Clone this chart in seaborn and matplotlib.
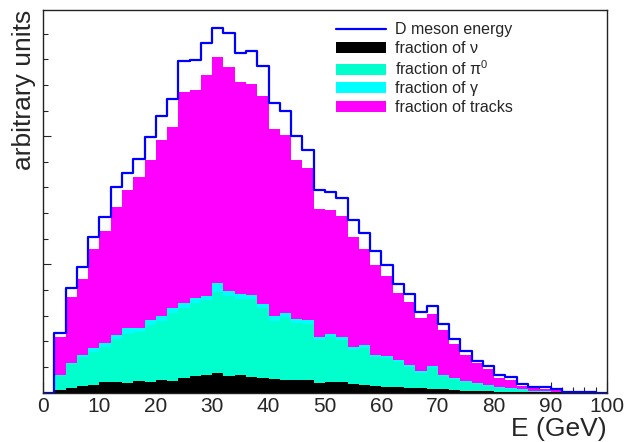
import numpy as np
import seaborn as sns
import matplotlib.pyplot as plt
from matplotlib.lines import Line2D
from matplotlib.patches import Patch
from matplotlib.ticker import MultipleLocator

sns.set_style("white")
plt.rcParams['font.family'] = ['Liberation Sans', 'DejaVu Sans']
plt.rcParams['mathtext.fontset'] = 'custom'
plt.rcParams['mathtext.rm'] = 'Liberation Sans'
plt.rcParams['mathtext.it'] = 'Liberation Sans:italic'

# 2 GeV bins from 0 to 100 GeV
edges = list(range(0, 102, 2))
centers = [e + 1 for e in edges[:-1]]

# D meson energy (arbitrary units)
d_meson = [0, 59.8, 104.2, 125.2, 154.8, 174.8, 205.2, 219.2, 233.2, 254.8,
           275.8, 293.5, 330.8, 331.8, 349.2, 364.2, 359.2, 339.2, 341.5, 326.5,
           289.2, 280.8, 255.8, 242.5, 201.8, 199.8, 194.2, 171.8, 159.2, 141.8,
           127.5, 108.2, 98.5, 80.8, 86.5, 68.2, 53.2, 41.5, 31.5, 26.5,
           17.5, 15.8, 8.2, 5.2, 5.2, 3.2, 0.8, 0.4, 0.2, 0]

# contributions of each component
frac_nu = [0, 2.5, 4.5, 6.5, 7.5, 10.2, 10.8, 9.8, 11.8, 10.8,
           12.5, 11.5, 14.5, 16.5, 17.5, 19.2, 16.5, 17.5, 15.2, 14.2,
           13.2, 12.5, 12.5, 12, 9.5, 10.3, 10.2, 8.5, 7.5, 6.8,
           5.8, 5.2, 4.8, 4.2, 3.8, 3.2, 2.5, 1.8, 1.8, 1.2,
           0.8, 0.6, 0.4, 0.3, 0.2, 0.1, 0.1, 0, 0, 0]

frac_pi0 = [0, 14, 24.3, 29.3, 33.3, 35, 42.7, 48.9, 48.5, 56.7,
            59.3, 67.8, 70.3, 73.3, 74.8, 81, 80, 76, 78.6, 70,
            58.6, 63.3, 56.7, 56.5, 43, 44.9, 42.6, 33.7, 37, 28.2,
            28.2, 25.3, 20.7, 15.6, 20.7, 12.8, 10.8, 8.7, 6.4, 5.3,
            3.6, 3, 2.3, 1.2, 0.6, 0.5, 0.3, 0.1, 0, 0]

frac_gamma = [0, 1, 1, 2, 4, 4, 4, 5.5, 4.5, 5,
              5, 5.5, 5, 5, 4.5, 9, 5, 5, 4, 4,
              5, 4, 4, 3.5, 3, 3, 3, 3, 3, 2.5,
              2.5, 2, 2, 2, 2, 1.5, 1.5, 1, 1, 1,
              0.8, 0.6, 0.5, 0.3, 0.2, 0.2, 0.1, 0, 0, 0]

frac_tracks = [0, 38, 65.4, 76, 98.4, 111.6, 127.7, 137.6, 150, 160,
               175, 180, 210.4, 207, 220.7, 225.6, 223.7, 211.3, 210.7, 207.6,
               186.4, 177, 158.6, 152.2, 127.7, 124.3, 120, 110, 96, 90,
               80, 66.7, 63.3, 52.4, 52, 45, 33.4, 26.3, 20, 16,
               9.6, 8.3, 3.3, 2.4, 2.2, 1.7, 0.3, 0.2, 0.1, 0]

labels = ["D meson energy", "fraction of ν", "fraction of π$^{\\mathrm{0}}$",
          "fraction of γ", "fraction of tracks"]
c_blue, c_nu, c_pi0, c_gamma, c_tracks = "#0000ff", "#000000", "#00ffcc", "#00ffff", "#ff00ff"

# stacked levels, drawn on top of each other like in ROOT
lvl_nu = np.array(frac_nu)
lvl_pi0 = lvl_nu + np.array(frac_pi0)
lvl_gamma = lvl_pi0 + np.array(frac_gamma)
lvl_tracks = lvl_gamma + np.array(frac_tracks)

fig = plt.figure(figsize=(6.27, 4.42), dpi=100)
ax = fig.add_axes([43 / 627, 49.5 / 442, 564 / 627, 382.5 / 442])

for lvl, col in [(lvl_tracks, c_tracks), (lvl_gamma, c_gamma), (lvl_pi0, c_pi0), (lvl_nu, c_nu)]:
    sns.histplot(x=centers, weights=lvl, bins=edges, element="step", fill=True,
                 color=col, alpha=1, linewidth=0, ax=ax)

sns.histplot(x=centers, weights=d_meson, bins=edges, element="step", fill=False,
             color=c_blue, linewidth=1.6, ax=ax)

ax.set_xlim(0, 100)
ax.set_ylim(0, 382)
ax.set_axisbelow(True)
ax.xaxis.set_major_locator(MultipleLocator(10))
ax.xaxis.set_minor_locator(MultipleLocator(2))
ax.yaxis.set_major_locator(MultipleLocator(128))
ax.yaxis.set_minor_locator(MultipleLocator(25.6))
ax.tick_params(axis='x', which='major', direction='in', length=8, width=0.8,
               labelsize=15, pad=3, bottom=True)
ax.tick_params(axis='x', which='minor', direction='in', length=4.3, width=0.8, bottom=True)
ax.tick_params(axis='y', which='major', direction='in', length=6, width=0.8,
               labelleft=False, left=True)
ax.tick_params(axis='y', which='minor', direction='in', length=3.3, width=0.8, left=True)
for sp in ax.spines.values():
    sp.set_color('#222222')
    sp.set_linewidth(1)

ax.set_xlabel("E (GeV)", loc="right", fontsize=19)
ax.xaxis.set_label_coords(1.0, -0.064)
ax.set_ylabel("arbitrary units", loc="top", fontsize=19)
ax.yaxis.set_label_coords(-0.013, 1.0)

handles = [Line2D([0], [0], color=c_blue, lw=1.6),
           Patch(facecolor=c_nu, edgecolor='none'),
           Patch(facecolor=c_pi0, edgecolor='none'),
           Patch(facecolor=c_gamma, edgecolor='none'),
           Patch(facecolor=c_tracks, edgecolor='none')]
ax.legend(handles, labels, loc='upper left', bbox_to_anchor=(0.52, 0.968),
          frameon=False, fontsize=11.5, handlelength=3.1, handleheight=0.7,
          handletextpad=0.55, labelspacing=0.22, borderpad=0, borderaxespad=0)

fig.savefig("out.png", dpi=100)
